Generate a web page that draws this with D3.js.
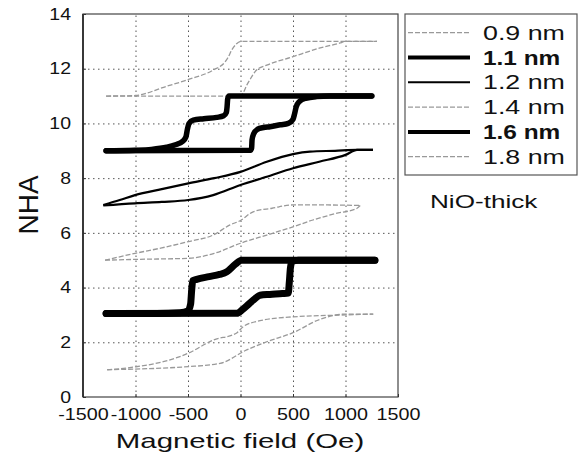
<!DOCTYPE html>
<html><head><meta charset="utf-8">
<script src="https://cdn.jsdelivr.net/npm/d3@7"></script>
<style>
html,body{margin:0;padding:0;background:#fff;}
text{font-family:"Liberation Sans",Arial,sans-serif;fill:#111;}
</style></head>
<body><svg id="c" width="579" height="463"></svg>
<script>
// ---- data (field in Oe, NHA) ----
const xTicks = [-1500,-1000,-500,0,500,1000,1500];
const yTicks = [0,2,4,6,8,10,12,14];
const seriesNames = ["0.9 nm","1.1 nm","1.2 nm","1.4 nm","1.6 nm","1.8 nm"];

const s09_down = [[1300,13],[10,13],[-40,12.9],[-84,12.68],[-120,12.4],[-147,12.25],[-260,11.95],[-500,11.6],[-750,11.3],[-900,11.1],[-1000,11.02],[-1280,11]];
const s09_up   = [[-1280,11],[0,11],[30,11.15],[60,11.4],[90,11.6],[153,11.95],[250,12.13],[500,12.44],[750,12.75],[948,12.94],[1000,13],[1300,13]];

const s11_down = [[1250,11],[-110,11],[-122,10.9],[-128,10.6],[-135,10.4],[-160,10.28],[-227,10.22],[-350,10.17],[-450,10.12],[-490,10.0],[-505,9.8],[-520,9.5],[-550,9.35],[-620,9.22],[-703,9.13],[-850,9.05],[-1000,9.02],[-1280,9]];
const s11_up   = [[-1280,9],[95,9.02],[106,9.1],[110,9.4],[125,9.62],[160,9.78],[220,9.85],[281,9.88],[380,9.95],[455,10.0],[500,10.15],[515,10.35],[530,10.6],[560,10.8],[620,10.92],[726,10.98],[850,11],[1250,11]];

const s12_down = [[1262,9.03],[1110,9.03],[900,9.0],[662,8.97],[500,8.88],[250,8.6],[0,8.23],[-250,8.0],[-497,7.81],[-750,7.6],[-1005,7.38],[-1150,7.2],[-1307,7.02]];
const s12_up   = [[-1307,7.0],[-1005,7.08],[-750,7.13],[-497,7.2],[-260,7.38],[0,7.75],[250,8.05],[500,8.36],[750,8.6],[1000,8.85],[1110,9.03],[1262,9.03]];

const s14_down = [[1140,7.0],[800,7.02],[500,7.02],[300,6.9],[120,6.77],[0,6.45],[-100,6.29],[-260,5.92],[-497,5.68],[-750,5.45],[-1005,5.25],[-1290,5.0]];
const s14_up   = [[-1290,5.0],[-1005,5.03],[-497,5.07],[-250,5.25],[0,5.62],[250,5.92],[500,6.22],[690,6.47],[900,6.7],[1110,6.9],[1140,7.0]];

const s16_down = [[1280,5.0],[10,5.0],[-50,4.85],[-130,4.58],[-200,4.48],[-300,4.4],[-417,4.3],[-455,4.25],[-465,3.9],[-475,3.4],[-500,3.15],[-576,3.08],[-800,3.05],[-1280,3.05]];
const s16_up   = [[-1280,3.05],[-36,3.06],[20,3.2],[80,3.4],[140,3.6],[186,3.72],[280,3.75],[400,3.78],[455,3.8],[465,4.2],[475,4.7],[490,4.95],[550,5.0],[1280,5.0]];

const s18_down = [[1264,3.03],[1000,3.0],[500,2.93],[186,2.79],[25,2.57],[-36,2.34],[-260,2.08],[-497,1.6],[-736,1.29],[-1005,1.1],[-1270,0.99]];
const s18_up   = [[-1270,1.0],[-497,1.11],[-195,1.23],[59,1.72],[250,2.02],[500,2.35],[757,2.84],[1000,3.03],[1264,3.03]];

const branches = [
  [s09_down,s09_up],[s11_down,s11_up],[s12_down,s12_up],
  [s14_down,s14_up],[s16_down,s16_up],[s18_down,s18_up]
];

// ---- styles ----
const styles = [
  {stroke:"#999", w:1.3, dash:"5,2", lw:1.3, bold:false},
  {stroke:"#000", w:5.5, dash:null, lw:4, bold:true},
  {stroke:"#000", w:2.2, dash:null, lw:2, bold:false},
  {stroke:"#999", w:1.3, dash:"5,2", lw:1.3, bold:false},
  {stroke:"#000", w:7, dash:null, lw:4, bold:true},
  {stroke:"#999", w:1.3, dash:"5,2", lw:1.3, bold:false}
];

const svg = d3.select("#c");
const L=83, R=398, T=14, B=397;
const x = d3.scaleLinear().domain([-1500,1500]).range([L,R]);
const y = d3.scaleLinear().domain([0,14]).range([B,T]);

function stretch(sel, f){ sel.each(function(){ const w=this.getComputedTextLength(); d3.select(this).attr("textLength", w*f).attr("lengthAdjust","spacingAndGlyphs"); }); }

// grid
const gx = svg.append("g").attr("transform",`translate(0,${B})`)
  .call(d3.axisBottom(x).tickValues(xTicks.slice(1,-1)).tickSize(-(B-T)).tickFormat(""));
const gy = svg.append("g").attr("transform",`translate(${L},0)`)
  .call(d3.axisLeft(y).tickValues(yTicks.slice(1,-1)).tickSize(-(R-L)).tickFormat(""));
[gx,gy].forEach(g=>{ g.select(".domain").remove(); g.selectAll("line").attr("stroke","#555").attr("stroke-width",1).attr("stroke-dasharray","1.5,3.5"); });

// frame
svg.append("rect").attr("x",L).attr("y",T).attr("width",R-L).attr("height",B-T)
  .attr("fill","none").attr("stroke","#444").attr("stroke-width",1.2);
svg.append("line").attr("x1",L).attr("x2",L).attr("y1",T).attr("y2",B).attr("stroke","#222").attr("stroke-width",1.6);

// tick labels via axes
const ax = svg.append("g").attr("transform",`translate(0,${B})`)
  .call(d3.axisBottom(x).tickValues(xTicks).tickSize(3).tickPadding(8).tickFormat(d=>String(d)));
ax.select(".domain").remove();
ax.selectAll("line").attr("stroke","#333").attr("y2",-3);
ax.selectAll("text").attr("font-size",17).attr("fill","#111").attr("font-family","Liberation Sans, Arial, sans-serif").attr("dy","0.71em").call(stretch,1.16);

const ay = svg.append("g").attr("transform",`translate(${L},0)`)
  .call(d3.axisLeft(y).tickValues(yTicks).tickSize(3).tickPadding(9));
ay.select(".domain").remove();
ay.selectAll("line").attr("stroke","#333").attr("x2",3);
ay.selectAll("text").attr("font-size",16.5).attr("fill","#111").attr("font-family","Liberation Sans, Arial, sans-serif").call(stretch,1.18);

// curves
const line = d3.line().x(d=>x(d[0])).y(d=>y(d[1])).curve(d3.curveMonotoneX);
const order = [0,2,3,5,1,4];
order.forEach(i=>{
  const s = styles[i];
  branches[i].forEach(br=>{
    const pts = br.slice().sort((a,b)=>a[0]-b[0]);
    svg.append("path").attr("d",line(pts)).attr("fill","none")
      .attr("stroke",s.stroke).attr("stroke-width",s.w)
      .attr("stroke-dasharray",s.dash).attr("stroke-linecap", s.w>3?"round":"butt")
      .attr("stroke-linejoin","round");
  });
});

// axis titles
svg.append("text").attr("x",240).attr("y",448).attr("text-anchor","middle")
  .attr("font-size",21).text("Magnetic field (Oe)").call(stretch,1.4);
svg.append("text").attr("transform","translate(38,205) rotate(-90)").attr("text-anchor","middle")
  .attr("font-size",28).text("NHA");

// legend
svg.append("rect").attr("x",405).attr("y",14).attr("width",172).attr("height",161)
  .attr("fill","#fff").attr("stroke","#555").attr("stroke-width",1.2);
const rowY = d3.scaleLinear().domain([0,5]).range([32.7,156.7]);
seriesNames.forEach((n,i)=>{
  const s = styles[i], cy = rowY(i);
  svg.append("line").attr("x1",408).attr("x2",470).attr("y1",cy).attr("y2",cy)
    .attr("stroke",s.stroke).attr("stroke-width",s.lw).attr("stroke-dasharray",s.dash);
  svg.append("text").attr("x",483).attr("y",cy+7).attr("font-size",20)
    .attr("font-weight",s.bold?"bold":"normal").text(n).call(stretch,s.bold?1.22:1.34);
});
svg.append("text").attr("x",430).attr("y",208).attr("font-size",18).text("NiO-thick").call(stretch,1.45);
</script></body></html>
